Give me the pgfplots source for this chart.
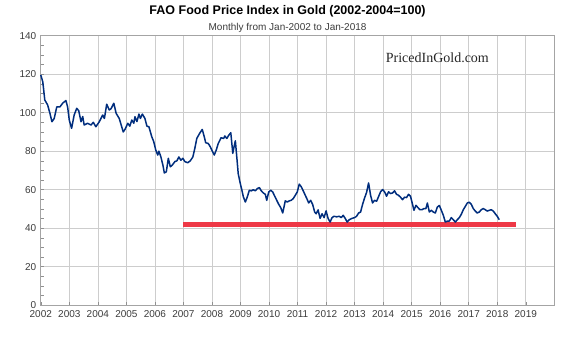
\documentclass[border=0pt]{standalone}
\usepackage{pgfplots}
\pgfplotsset{compat=1.18}
\usepackage{fontspec}
\setmainfont{Liberation Sans}
\newfontfamily\wmfont{Liberation Serif}
\definecolor{navy}{RGB}{0,45,125}
\definecolor{redline}{RGB}{238,56,70}
\definecolor{gridc}{RGB}{205,205,205}
\definecolor{txt}{RGB}{60,60,60}
\begin{document}
\begin{tikzpicture}
\path[use as bounding box] (-40.8pt,-38.8pt) rectangle (534.2pt,305.2pt);
\begin{axis}[
  scale only axis,
  width=513.5pt, height=269.5pt,
  xmin=2002, xmax=2020, ymin=0, ymax=140,
  xtick={2002,2003,...,2019},
  ytick={0,20,...,140},
  minor x tick num=3,
  minor y tick num=3,
  grid=major,
  major grid style={gridc, line width=0.6pt},
  axis line style={gridc!80!black, line width=0.6pt},
  tick style={gridc!70!black, line width=0.5pt},
  tick align=inside,
  major tick length=3pt, minor tick length=3pt,
  xtick pos=bottom, ytick pos=left,
  /pgf/number format/1000 sep={},
  /pgf/number format/assume math mode=true,
  ticklabel style={font=\fontsize{10}{12}\selectfont, text=txt},
  xticklabel style={yshift=-2pt},
  yticklabel style={xshift=-1pt},
  clip=false,
]
\addplot[redline, line width=5pt] coordinates {(2007,42) (2018.65,42)};
\addplot[navy, line width=1.5pt, line join=round] table {
2002.00 119.6
2002.07 116
2002.14 106.6
2002.24 104
2002.32 99.7
2002.39 95.3
2002.47 97
2002.56 103
2002.67 103
2002.77 105
2002.88 106.3
2002.94 103
2003.00 96
2003.08 91.9
2003.17 98.8
2003.26 102.3
2003.33 101
2003.41 95.3
2003.47 98
2003.52 93.6
2003.64 94.5
2003.76 93.6
2003.84 95
2003.93 92.7
2004.05 95.3
2004.17 98.8
2004.23 97
2004.31 104.4
2004.40 101.4
2004.46 102
2004.56 104.9
2004.64 99.7
2004.75 97
2004.89 90
2004.95 91.3
2005.05 94.5
2005.12 93
2005.19 96.2
2005.26 94.5
2005.30 97.9
2005.37 95.4
2005.44 99.3
2005.49 97
2005.56 99.3
2005.65 97
2005.72 93
2005.79 92.7
2005.89 87.5
2005.96 84.9
2006.03 80.6
2006.10 78
2006.14 80
2006.21 77
2006.28 72.8
2006.33 68.7
2006.40 69.3
2006.47 76.3
2006.54 71.9
2006.61 72.8
2006.70 74.6
2006.77 75
2006.84 77
2006.91 75.3
2006.98 76.3
2007.05 74.6
2007.15 74
2007.24 75
2007.33 77
2007.40 81.5
2007.47 86.7
2007.57 89.3
2007.66 91.3
2007.73 87.5
2007.78 84.4
2007.87 84
2007.94 82.3
2008.01 80.1
2008.08 78
2008.15 80.6
2008.22 84
2008.32 87
2008.41 86.6
2008.45 87.9
2008.52 86.6
2008.59 88.3
2008.66 89.6
2008.73 78.9
2008.77 82
2008.82 85.4
2008.87 77
2008.92 68.4
2008.98 64
2009.05 59.7
2009.10 56.3
2009.17 53.6
2009.24 56.3
2009.31 59.7
2009.38 59.4
2009.45 60
2009.52 59.4
2009.59 60.6
2009.66 61.1
2009.73 59.4
2009.80 58.3
2009.87 57.6
2009.92 54.5
2009.99 58.8
2010.06 59.7
2010.13 58.8
2010.20 56.6
2010.27 54.5
2010.34 52.4
2010.41 50.7
2010.48 47.9
2010.52 50.7
2010.57 54.2
2010.64 53.6
2010.71 54.2
2010.78 54.5
2010.85 55.4
2010.92 57.1
2010.99 58.8
2011.06 62.9
2011.13 61.5
2011.20 59.4
2011.27 57.1
2011.34 54.9
2011.39 53.1
2011.46 54.5
2011.53 52.3
2011.60 48.4
2011.65 47.5
2011.72 49.5
2011.79 45.1
2011.86 47.5
2011.93 45.5
2012.00 49
2012.07 45.1
2012.14 43.2
2012.21 45.5
2012.28 46.2
2012.37 45.9
2012.46 46.2
2012.53 45.5
2012.60 46.7
2012.67 45.1
2012.74 43.2
2012.81 44.4
2012.91 45.1
2013.00 45.5
2013.07 46.2
2013.14 47.9
2013.21 48.4
2013.28 52.4
2013.35 55.7
2013.42 58.6
2013.49 63.5
2013.56 57.1
2013.63 53.1
2013.70 54.5
2013.77 54
2013.84 56.4
2013.91 58.9
2013.98 60.1
2014.05 58.9
2014.12 56.6
2014.19 58.9
2014.26 58
2014.33 58.3
2014.40 59.4
2014.47 57.6
2014.54 57.1
2014.61 56.1
2014.68 54.8
2014.75 56.1
2014.82 55.9
2014.89 57.6
2014.96 56.6
2015.01 53.6
2015.08 49.3
2015.15 51.9
2015.22 50.7
2015.29 49.6
2015.36 49.6
2015.43 50.2
2015.50 50.2
2015.55 53.1
2015.62 48.4
2015.69 49.3
2015.76 48.4
2015.83 47.9
2015.90 51
2015.97 51.8
2016.04 49.3
2016.11 46.7
2016.18 43.2
2016.25 43.7
2016.32 43.7
2016.39 45.5
2016.46 44.4
2016.53 43.2
2016.60 44.4
2016.67 45.5
2016.74 47.2
2016.81 49.6
2016.88 51.3
2016.95 53.1
2017.02 53.5
2017.09 52.4
2017.16 50.2
2017.23 48.9
2017.30 47.9
2017.37 48.4
2017.44 49.6
2017.51 50.2
2017.58 49.6
2017.65 48.9
2017.72 49.3
2017.79 49.6
2017.86 48.9
2017.93 47.5
2018.00 46.2
2018.07 44.4
};
\node[font=\wmfont\fontsize{14}{17}\selectfont, text=black!85] at (axis cs:2015.9,128.4) {PricedInGold.com};
\node[font=\bfseries\fontsize{12.5}{15}\selectfont, text=black] at (axis cs:2010.65,152.5) {FAO Food Price Index in Gold (2002-2004=100)};
\node[font=\fontsize{10}{12}\selectfont, text=txt] at (axis cs:2010.65,144.3) {Monthly from Jan-2002 to Jan-2018};
\end{axis}
\end{tikzpicture}
\end{document}
